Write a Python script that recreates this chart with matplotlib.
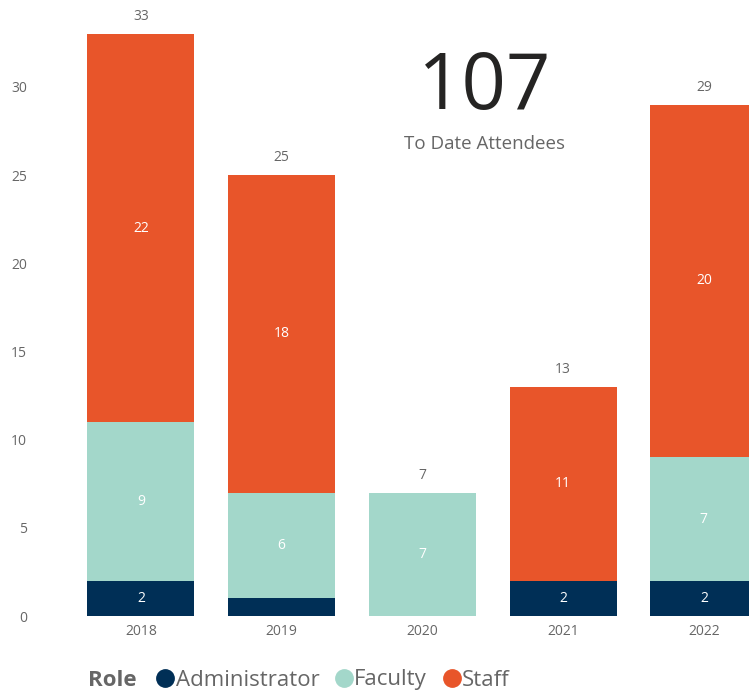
import numpy as np

import matplotlib
matplotlib.use('Agg')
import matplotlib.pyplot as plt
from matplotlib.lines import Line2D

years = ['2018', '2019', '2020', '2021', '2022']
roles = ['Administrator', 'Faculty', 'Staff']
admin = [2, 1, 0, 2, 2]
faculty = [9, 6, 7, 0, 7]
staff = [22, 18, 0, 11, 20]
to_date = 107

colors = {'Administrator': '#002f56', 'Faculty': '#a3d7ca', 'Staff': '#e8552a'}
grey = '#666666'

plt.rcParams['font.family'] = ['Open Sans', 'DejaVu Sans']

fig = plt.figure(figsize=(7.49, 6.92), dpi=100)
ax = fig.add_axes([45/749, 76/692, 704/749, 611/692])

x = np.arange(len(years))
series = [admin, faculty, staff]
bottom = np.zeros(len(years))
for role, vals in zip(roles, series):
    vals = np.array(vals, dtype=float)
    ax.bar(x, vals, bottom=bottom, width=0.76, color=colors[role], linewidth=0)
    for i, v in enumerate(vals):
        # small segments have no label in the source
        if v >= 2:
            ax.text(x[i], bottom[i] + v/2, f'{int(v)}', color='white',
                    ha='center', va='center', fontsize=10)
    bottom += vals

for i, t in enumerate(bottom):
    ax.text(x[i], t + 0.55, f'{int(t)}', color=grey, ha='center',
            va='bottom', fontsize=10)

ax.set_xlim(-0.682, 4.321)
ax.set_ylim(0, 34.65)
ax.set_xticks(x)
ax.set_xticklabels(years)
ax.set_yticks([0, 5, 10, 15, 20, 25, 30])
ax.tick_params(length=0, labelcolor=grey, labelsize=10)
ax.tick_params(axis='y', pad=13)
ax.tick_params(axis='x', pad=6)
for s in ax.spines.values():
    s.set_visible(False)

fig.text(485/749, 1 - 88/692, f'{to_date}', fontsize=56, color='#252423',
         ha='center', va='center')
fig.text(485/749, 1 - 144/692, 'To Date Attendees', fontsize=13.5,
         color=grey, ha='center', va='center')

fig.text(88/749, 1 - 680/692, 'Role', fontsize=16, fontweight='bold',
         color=grey, ha='left', va='center')
handles = [Line2D([], [], marker='o', linestyle='none', markersize=12.5,
                  color=colors[r]) for r in roles]
fig.legend(handles, roles, loc='center left', bbox_to_anchor=(153/749, 1 - 680/692),
           ncol=3, frameon=False, fontsize=16, labelcolor=grey,
           handletextpad=-0.08, columnspacing=0.55, handlelength=1.1,
           borderpad=0, borderaxespad=0)

fig.savefig('out.png', dpi=100)
plt.close(fig)
